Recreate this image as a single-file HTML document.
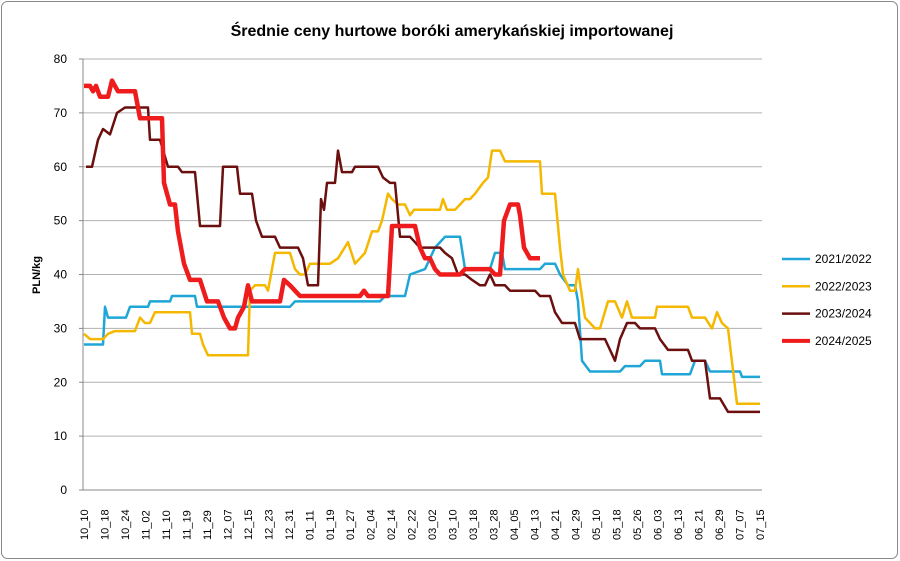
<!DOCTYPE html>
<html><head><meta charset="utf-8"><style>
body{margin:0;background:#fff;}
svg{display:block;font-family:"Liberation Sans",sans-serif;}
</style></head><body>
<svg id="s" width="900" height="561" viewBox="0 0 900 561">
<rect x="1.5" y="1.5" width="896" height="557" rx="6" fill="#fff" stroke="#888" stroke-width="1"/>
<text x="452" y="36" text-anchor="middle" font-size="16" font-weight="bold" font-family="Liberation Sans, DejaVu Sans, sans-serif">Średnie ceny hurtowe boróki amerykańskiej importowanej</text>
<text transform="translate(40,275) rotate(-90)" text-anchor="middle" font-size="11" font-weight="bold">PLN/kg</text>
<g id="g"></g>
</svg>
<script>
const s=document.getElementById('g');const NS='http://www.w3.org/2000/svg';
function el(t,a,txt){const e=document.createElementNS(NS,t);for(const k in a)e.setAttribute(k,a[k]);if(txt)e.textContent=txt;s.appendChild(e);return e;}
const Y=v=>490-v*5.3875;
for(let v=10;v<=80;v+=10)el('line',{x1:83,y1:Y(v),x2:762,y2:Y(v),stroke:'#b0b0b0'});
el('line',{x1:83,y1:59,x2:83,y2:490,stroke:'#888'});
el('line',{x1:83,y1:490,x2:762,y2:490,stroke:'#888'});
for(let v=0;v<=80;v+=10){el('line',{x1:79,x2:83,y1:Y(v),y2:Y(v),stroke:'#888'});el('text',{x:67,y:Y(v)+4,'text-anchor':'end','font-size':12},String(v));}
const L="10_10,10_18,10_24,11_02,11_10,11_19,11_29,12_07,12_15,12_23,12_31,01_11,01_19,01_27,02_04,02_14,02_22,03_02,03_10,03_18,03_28,04_05,04_13,04_21,04_29,05_10,05_18,05_26,06_03,06_13,06_21,06_29,07_07,07_15".split(',');
L.forEach((l,i)=>{const x=84+i*20.48;el('text',{transform:`translate(${x+4},540) rotate(-90)`,'font-size':11},l);});
function ser(d,c,w){const p=[];for(let i=0;i<d.length;i+=2)p.push(d[i]+','+Y(d[i+1]).toFixed(1));el('polyline',{points:p.join(' '),fill:'none',stroke:c,'stroke-width':w,'stroke-linejoin':'round'});}
ser([84,27,103,27,105,34,108,32,126,32,130,34,148,34,150,35,170,35,172,36,195,36,197,34,290,34,295,35,380,35,385,36,405,36,410,40,425,41,430,43,435,45,445,47,460,47,465,41,490,41,495,44,502,44,505,41,540,41,545,42,555,42,560,40,568,38,575,38,578,35,582,24,590,22,620,22,625,23,640,23,645,24,660,24,662,21.5,690,21.5,695,24,705,24,710,22,740,22,742,21,760,21],'#1fa6d6',2.5);
ser([84,29,90,28,103,28,108,29,115,29.5,135,29.5,140,32,145,31,150,31,155,33,190,33,192,29,200,29,203,27,208,25,248,25,250,37,255,38,265,38,268,37,275,44,290,44,295,41,300,40,305,40,310,42,330,42,338,43,348,46,355,42,365,44,372,48,378,48,382,50,388,55,392,54,398,53,405,53,410,51,414,52,440,52,443,54,447,52,455,52,460,53,465,54,470,54,475,55,483,57,488,58,492,63,500,63,505,61,540,61,542,55,555,55,560,45,563,40,570,37,575,37,578,41,585,32,595,30,600,30,608,35,615,35,622,32,627,35,632,32,655,32,657,34,688,34,692,32,705,32,712,30,717,33,722,31,728,30,737,16,760,16],'#f5b800',2.5);
ser([86,60,92,60,98,65,103,67,110,66,117,70,125,71,148,71,150,65,160,65,168,60,178,60,182,59,195,59,197,55,200,49,220,49,223,60,237,60,240,55,252,55,256,50,262,47,275,47,280,45,298,45,303,43,308,38,318,38,321,54,324,52,327,57,335,57,338,63,342,59,352,59,355,60,378,60,383,58,390,57,395,57,400,47,410,47,415,46,420,45,440,45,445,44,452,43,458,40,465,40,472,39,480,38,485,38,490,40,495,38,505,38,510,37,535,37,540,36,550,36,555,33,562,31,575,31,580,28,605,28,610,26,615,24,620,28,627,31,635,31,640,30,655,30,660,28,668,26,688,26,692,24,705,24,710,17,720,17,728,14.5,760,14.5],'#6b0f0f',2.5);
ser([84,75,90,75,93,74,96,75,100,73,108,73,112,76,118,74,135,74,140,69,162,69,164,57,170,53,175,53,178,48,184,42,190,39,200,39,207,35,218,35,224,32,230,30,235,30,238,32,244,34,248,38,252,35,280,35,284,39,290,38,295,37,300,36,360,36,364,37,368,36,388,36,392,49,415,49,420,45,425,43,430,43,435,41,440,40,460,40,465,41,490,41,495,40,500,40,504,50,510,53,518,53,520,51,524,45,530,43,540,43],'#ee1c1c',4.5);
[['2021/2022','#1fa6d6'],['2022/2023','#f5b800'],['2023/2024','#6b0f0f'],['2024/2025','#ee1c1c']].forEach((a,i)=>{const y=259+i*27.3;el('line',{x1:782,x2:810,y1:y,y2:y,stroke:a[1],'stroke-width':i==3?4:2.5});el('text',{x:815,y:y+4,'font-size':12},a[0]);});
</script>
</body></html>
